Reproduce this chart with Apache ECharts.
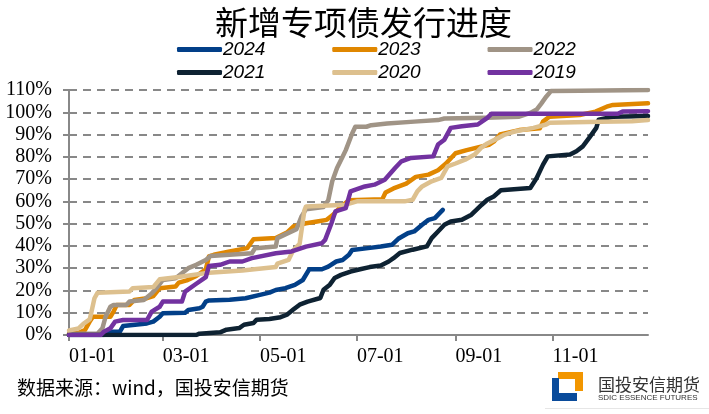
<!DOCTYPE html>
<html><head><meta charset="utf-8">
<script src="https://cdn.jsdelivr.net/npm/echarts@6/dist/echarts.min.js"></script>
<style>html,body{margin:0;padding:0;background:#fff}#c{width:709px;height:414px}</style>
</head><body><div id="c"></div>
<script>
// x = day of year (0 = Jan 1), y = cumulative issuance progress (%)
const tickDays = [0, 59, 120, 181, 243, 304];
const tickLabels = ['01-01', '03-01', '05-01', '07-01', '09-01', '11-01'];
const yTicks = [0, 10, 20, 30, 40, 50, 60, 70, 80, 90, 100, 110];
const seriesNames = ['2024', '2023', '2022', '2021', '2020', '2019'];

const d2024 = [0, 22, 24, 32, 34, 49, 53, 57, 59, 73, 75, 82, 84, 86, 88, 101, 111, 120, 126, 130, 136, 142, 147, 151, 159, 163, 168, 172, 176, 178, 188, 196, 203, 207, 213, 217, 222, 226, 230, 233, 235];
const v2024 = [0, 0, 1.5, 1.5, 4, 5.2, 6, 8.2, 9.8, 10, 11.2, 12, 12.7, 15, 15.5, 15.8, 16.5, 18, 19, 20.2, 21, 22.5, 24.7, 29.5, 29.5, 30.7, 33, 33.7, 36, 38.2, 39, 39.7, 40.5, 43.2, 45.7, 46.5, 49.5, 51.7, 52.5, 54.7, 56.2];

const d2023 = [0, 6, 10, 13, 15, 26, 28, 30, 38, 41, 49, 53, 57, 67, 69, 74, 80, 86, 88, 91, 101, 112, 116, 130, 137, 141, 145, 149, 156, 162, 166, 170, 176, 197, 199, 204, 212, 218, 226, 232, 237, 243, 250, 264, 267, 271, 283, 296, 298, 302, 321, 331, 338, 342, 364];
const v2023 = [0.7, 1, 2.2, 6, 8.2, 8.2, 10.5, 13.5, 13.5, 15.7, 16.5, 17.5, 21, 21.8, 23.5, 24.5, 26.5, 29.5, 35.3, 36, 37.5, 39, 43, 43.5, 46, 48.7, 49.5, 50.2, 51, 51.7, 54, 57, 60.5, 61, 64, 65.8, 68, 71, 72, 74, 77, 81.6, 83, 85.4, 86.8, 90, 92, 92.8, 95.8, 98, 98.8, 100.3, 102.5, 103.3, 104];

const d2022 = [0, 18, 21, 23, 26, 28, 36, 38, 47, 52, 55, 59, 67, 71, 75, 80, 86, 89, 115, 117, 130, 131, 137, 143, 146, 149, 160, 163, 165.5, 168.5, 172, 174, 178, 180, 187, 190, 200, 217, 232, 236, 262, 283, 290, 294, 297, 300, 303, 321, 364];
const v2022 = [0.5, 0.7, 3, 8.2, 12.7, 13.5, 13.5, 15, 15.7, 18.7, 21, 24.7, 25.5, 27.7, 30, 31.5, 33.7, 35.5, 36.7, 39, 39.7, 43.5, 45.5, 47.5, 53, 56.5, 57.5, 60.5, 69, 75, 80, 83, 90.5, 93.5, 93.5, 94.2, 95, 95.8, 96.5, 97.2, 97.5, 98, 99.7, 101.2, 104, 107, 109.5, 109.7, 110];

const d2021 = [0, 80, 82, 95, 99, 107, 110, 116, 118, 126, 133, 137, 141, 145, 150, 158, 160, 164, 167, 171, 177, 183, 189, 196, 201, 204, 208, 216, 225, 228, 232, 236, 240, 247, 253, 259.5, 263, 267, 271.5, 290, 294, 298, 301, 315, 319, 323, 327, 331.5, 333, 342, 364];
const v2021 = [0, 0, 0.6, 1.2, 2.4, 3.1, 4.6, 5.4, 6.9, 7.2, 8, 9.1, 11.4, 13.6, 15, 16.6, 20.3, 22.6, 25.6, 27, 28.5, 29.5, 30.5, 31.2, 33, 34.5, 36.8, 38.3, 39.8, 43.5, 46.5, 49.5, 51, 51.7, 54, 58.5, 60.7, 62.2, 65, 66, 70.5, 76.5, 80.2, 81, 82.5, 84.7, 88.5, 93, 96.7, 98, 98.3];

const d2020 = [0, 6, 9, 13, 14, 16, 18, 38, 40, 53, 57, 69, 88, 109, 130, 131, 138, 141, 145, 148, 149, 174, 181, 211, 216, 219, 222, 228, 234, 238, 243, 249, 255, 259, 263, 270, 274, 281, 292, 300, 302, 334, 354, 364];
const v2020 = [2, 3, 5, 7, 10, 16.5, 19, 19.5, 21, 21.5, 25, 26, 28, 29, 30.5, 32, 33.7, 38, 41, 56, 57.7, 58.5, 60, 60, 60.7, 64.5, 66.7, 69, 70.5, 75.7, 77, 78.7, 81, 84, 86, 88.5, 90, 91.5, 93, 94.5, 95.3, 95.7, 96, 96.5];

const d2019 = [0, 20, 22, 26, 29, 34, 49, 52, 57, 59, 71, 73, 80, 86, 88, 95, 101, 109, 115, 130, 140, 149, 159, 161, 165, 167.5, 174, 177, 186, 192, 198.5, 205, 209, 215, 229, 232, 236, 240, 247, 257, 260, 263, 265.5, 345, 348, 364];
const v2019 = [0, 0, 1.5, 3, 6, 6.7, 6.7, 10.5, 12.7, 15, 15, 19.5, 23, 26, 31, 31.5, 33, 33, 34.5, 36.7, 37.5, 39.7, 41.2, 42.7, 50.2, 55.5, 57, 64.5, 66.7, 67.5, 69.7, 75, 78, 79.5, 80.2, 85.5, 87.7, 93, 93.7, 94.5, 96, 97.5, 99.3, 99.3, 100.3, 100.5];

const colors = ['#023F88', '#E08700', '#A09486', '#0E2232', '#DDC08E', '#7232A0'];
const allDays = [d2024, d2023, d2022, d2021, d2020, d2019];
const allVals = [v2024, v2023, v2022, v2021, v2020, v2019];

const chart = echarts.init(document.getElementById('c'), null, {renderer: 'canvas'});
const legendText = {fontFamily: "'Liberation Sans', Arial, sans-serif", fontStyle: 'italic', fontSize: 19, color: '#000', padding: [0, 0, 0, -4]};
const legendBase = {icon: 'roundRect', itemWidth: 45, itemHeight: 5, itemGap: 67, left: 172, textStyle: legendText, selectedMode: false};

chart.setOption({
  animation: false,
  color: colors,
  title: {text: '新增专项债发行进度', left: 210, top: 1,
    textStyle: {fontFamily: "'Noto Sans CJK SC', sans-serif", fontSize: 33, fontWeight: 'normal', color: '#000'}},
  legend: [
    Object.assign({}, legendBase, {top: 35, data: seriesNames.slice(0, 3)}),
    Object.assign({}, legendBase, {top: 58, data: seriesNames.slice(3, 6)})
  ],
  grid: {left: 69, right: 61, top: 90, bottom: 79, containLabel: false},
  xAxis: {
    type: 'value', min: 0, max: 364,
    axisLine: {show: true, lineStyle: {color: '#888', width: 2}},
    axisTick: {show: true, length: 6, customValues: tickDays, lineStyle: {color: '#888', width: 2}},
    axisLabel: {customValues: tickDays, align: 'left', margin: 12,
      formatter: v => tickLabels[tickDays.indexOf(v)] || '',
      fontFamily: "'Liberation Serif', 'Times New Roman', serif", fontSize: 20, color: '#000'},
    splitLine: {show: false}
  },
  yAxis: {
    type: 'value', min: 0, max: 110, interval: 10,
    axisLine: {show: true, lineStyle: {color: '#888', width: 2}},
    axisTick: {show: true, length: 6, lineStyle: {color: '#888', width: 2}},
    axisLabel: {formatter: '{value}%', margin: 17,
      fontFamily: "'Liberation Serif', 'Times New Roman', serif", fontSize: 20, color: '#000'},
    splitLine: {show: true, lineStyle: {color: '#888', width: 2, type: [8, 6]}}
  },
  series: seriesNames.map((name, i) => ({
    name: name, type: 'line', showSymbol: false, symbol: 'none',
    lineStyle: {width: 4.5, color: colors[i], cap: 'round', join: 'round'},
    itemStyle: {color: colors[i]},
    data: allDays[i].map((d, k) => [d, allVals[i][k]])
  })),
  graphic: [
    {type: 'text', left: 17, top: 378, style: {text: '数据来源：wind，国投安信期货', fontFamily: "'Noto Sans CJK SC', sans-serif", fontSize: 19, fill: '#000'}},
    {type: 'rect', shape: {x: 558, y: 372, width: 25, height: 7}, style: {fill: '#F29600'}},
    {type: 'rect', shape: {x: 575, y: 372, width: 8, height: 19}, style: {fill: '#F29600'}},
    {type: 'rect', shape: {x: 552, y: 378, width: 7, height: 23}, style: {fill: '#0A4B9B'}},
    {type: 'rect', shape: {x: 552, y: 393, width: 25, height: 8}, style: {fill: '#0A4B9B'}},
    {type: 'text', left: 598, top: 376, style: {text: '国投安信期货', fontFamily: "'Noto Sans CJK SC', sans-serif", fontSize: 17, fill: '#333'}},
    {type: 'text', left: 598, top: 394, style: {text: 'SDIC ESSENCE FUTURES', fontFamily: "'Liberation Sans Narrow', 'Liberation Sans', sans-serif", fontSize: 8, fill: '#333'}},
    {type: 'rect', shape: {x: 545, y: 408, width: 164, height: 1}, style: {fill: '#e6e6e6'}}
  ]
});
</script></body></html>
